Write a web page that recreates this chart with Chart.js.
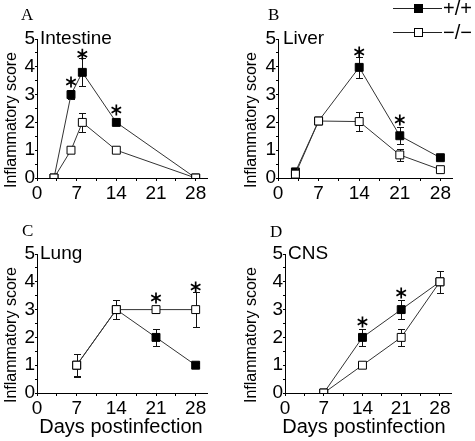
<!DOCTYPE html>
<html>
<head>
<meta charset="utf-8">
<script src="https://cdn.jsdelivr.net/npm/chart.js@4/dist/chart.umd.min.js"></script>
<style>
  body { margin: 0; background: #fff; }
  #wrap { position: relative; width: 475px; height: 441px; background: #fff; }
  canvas { position: absolute; }
</style>
</head>
<body>
<div id="wrap">
  <canvas id="cA" width="235" height="215" style="left:0;top:0"></canvas>
  <canvas id="cB" width="240" height="215" style="left:235px;top:0"></canvas>
  <canvas id="cC" width="235" height="226" style="left:0;top:215px"></canvas>
  <canvas id="cD" width="240" height="226" style="left:235px;top:215px"></canvas>
</div>
<script>
// tick labels
const xTickLabels = [0, 7, 14, 21, 28];
const yTickLabels = [0, 1, 2, 3, 4, 5];
const seriesNames = ["+/+", "\u2212/\u2212"];

// A - intestine
const intestineDays = [3, 6, 8, 14, 28];
const intestineWT = [0, 3.0, 3.8, 2.0, 0];
const intestineWTErr = [0, 0.15, 0.5, 0.08, 0];
const intestineKO = [0, 1, 2, 1, 0];
const intestineKOErr = [0, 0.1, 0.35, 0.08, 0];
const intestineStarDays = [6, 8, 14];
const intestineStarY = [3.45, 4.45, 2.45];

// B - liver
const liverDays = [3, 7, 14, 21, 28];
const liverWT = [0.22, 2.05, 3.98, 1.52, 0.73];
const liverWTErr = [0.08, 0.1, 0.39, 0.31, 0.1];
const liverKO = [0.14, 2.05, 2.03, 0.83, 0.3];
const liverKOErr = [0.08, 0.1, 0.33, 0.22, 0.1];
const liverStarDays = [14, 21];
const liverStarY = [4.53, 2.09];

// C - lung
const lungDays = [7, 14, 21, 28];
const lungWT = [1, 3, 2, 1];
const lungWTErr = [0.4, 0.35, 0.3, 0.08];
const lungKO = [1, 3, 3, 3];
const lungKOErr = [0.42, 0.35, 0.12, 0.62];
const lungStarDays = [21, 28];
const lungStarY = [3.42, 3.81];

// D - CNS
const cnsDays = [7, 14, 21, 28];
const cnsWT = [0, 2, 3, 4];
const cnsWTErr = [0, 0.31, 0.35, 0.4];
const cnsKO = [0, 1, 2, 4];
const cnsKOErr = [0, 0.06, 0.3, 0.4];
const cnsStarDays = [14, 21];
const cnsStarY = [2.55, 3.6];

const SANS = '"Liberation Sans", Arial, sans-serif';
const SERIF = '"Liberation Serif", "Times New Roman", serif';

const near = (list, v) => list.find((t) => Math.abs(t - v) < 0.01);

const panelDecor = {
  id: "panelDecor",
  beforeDatasetsDraw(chart, args, o) {
    const ctx = chart.ctx;
    const xs = chart.scales.x, ys = chart.scales.y;
    ctx.save();
    ctx.strokeStyle = "#111";
    ctx.lineWidth = 1;
    chart.data.datasets.forEach((ds) => {
      ds.data.forEach((p, i) => {
        const e = ds.err[i];
        if (!e) return;
        const x = Math.round(xs.getPixelForValue(p.x)) + 0.5;
        const yHi = Math.round(ys.getPixelForValue(p.y + e)) + 0.5;
        const yLo = Math.round(ys.getPixelForValue(p.y - e)) + 0.5;
        ctx.beginPath();
        ctx.moveTo(x, yHi); ctx.lineTo(x, yLo);
        ctx.moveTo(x - 3.5, yHi); ctx.lineTo(x + 3.5, yHi);
        ctx.moveTo(x - 3.5, yLo); ctx.lineTo(x + 3.5, yLo);
        ctx.stroke();
      });
    });
    ctx.restore();
  },
  afterDraw(chart, args, o) {
    const ctx = chart.ctx;
    const xs = chart.scales.x, ys = chart.scales.y;
    ctx.save();
    ctx.fillStyle = "#000";
    ctx.textBaseline = "alphabetic";
    ctx.textAlign = "left";
    // panel letter
    ctx.font = "17px " + SERIF;
    ctx.fillText(o.letter, o.letterX, o.letterY);
    // panel name
    ctx.font = "19px " + SANS;
    ctx.fillText(o.name, o.nameX, 44);
    // y title
    ctx.save();
    ctx.translate(o.yTitleX, 120);
    ctx.rotate(-Math.PI / 2);
    ctx.textAlign = "center";
    ctx.textBaseline = "middle";
    ctx.font = "16px " + SANS;
    ctx.fillText("Inflammatory score", 0, 0);
    ctx.restore();
    // x title
    if (o.xTitle) {
      ctx.textAlign = "center";
      ctx.font = "20px " + SANS;
      ctx.fillText("Days postinfection", o.xTitleX, 218);
    }
    // asterisks
    ctx.strokeStyle = "#000";
    ctx.lineWidth = 1.7;
    o.starDays.forEach((d, i) => {
      const cx = xs.getPixelForValue(d);
      const cy = ys.getPixelForValue(o.starY[i]);
      ctx.beginPath();
      for (let k = 0; k < 3; k++) {
        const a = Math.PI / 2 + k * Math.PI / 3;
        ctx.moveTo(cx + 5.5 * Math.cos(a), cy + 5.5 * Math.sin(a));
        ctx.lineTo(cx - 5.5 * Math.cos(a), cy - 5.5 * Math.sin(a));
      }
      ctx.stroke();
    });
    // legend
    if (o.legend) {
      ctx.lineWidth = 1;
      ctx.font = "20px " + SANS;
      ctx.textAlign = "left";
      ctx.textBaseline = "middle";
      [8, 32].forEach((y, i) => {
        ctx.strokeStyle = "#222";
        ctx.beginPath();
        ctx.moveTo(158, y + 0.5); ctx.lineTo(207, y + 0.5);
        ctx.stroke();
        ctx.fillStyle = i === 0 ? "#000" : "#fff";
        ctx.fillRect(179, y - 4, 8, 8);
        ctx.strokeStyle = "#000";
        ctx.strokeRect(179.5, y - 3.5, 8, 8);
        ctx.fillStyle = "#000";
        ctx.fillText(seriesNames[i], 208, y + 1);
      });
    }
    ctx.restore();
  },
};

function makePanel(id, cfg) {
  const pts = (vals) => cfg.days.map((d, i) => ({ x: d, y: vals[i] }));
  const ds = (label, vals, err, fill) => ({
    label: label,
    data: pts(vals),
    err: err,
    borderColor: "#333",
    borderWidth: 1,
    pointStyle: "rect",
    pointRadius: 5.6,
    pointBorderWidth: 1,
    pointBorderColor: "#000",
    pointBackgroundColor: fill,
    tension: 0,
  });
  return new Chart(document.getElementById(id), {
    type: "line",
    data: {
      // dataset 0 is drawn on top
      datasets: [
        ds(seriesNames[1], cfg.ko, cfg.koErr, "#fff"),
        ds(seriesNames[0], cfg.wt, cfg.wtErr, "#000"),
      ],
    },
    options: {
      responsive: false,
      animation: false,
      layout: { padding: { top: 39, right: cfg.padRight, left: 0, bottom: 0 } },
      plugins: {
        legend: { display: false },
        tooltip: { enabled: false },
        panelDecor: cfg.decor,
      },
      scales: {
        x: {
          type: "linear",
          min: 0,
          max: 30,
          afterFit: (s) => { s.height = cfg.xHeight; },
          afterBuildTicks: (s) => {
            s.ticks = s.ticks.filter((t) => t.value <= 28.01);
          },
          grid: { drawOnChartArea: false, drawTicks: true, tickLength: 3, color: "#000" },
          border: { display: true, color: "#000", width: 1 },
          ticks: {
            stepSize: 3.5,
            includeBounds: false,
            autoSkip: false,
            maxRotation: 0,
            padding: 1,
            color: "#000",
            font: { family: SANS, size: 19 },
            callback: (v) => { const t = near(xTickLabels, v); return t === undefined ? "" : String(t); },
          },
        },
        y: {
          min: 0,
          max: 5,
          afterFit: (s) => { s.width = cfg.yWidth; },
          grid: { drawOnChartArea: false, drawTicks: true, tickLength: 2, color: "#000" },
          border: { display: true, color: "#000", width: 1 },
          ticks: {
            stepSize: 0.5,
            autoSkip: false,
            padding: 0,
            color: "#000",
            font: { family: SANS, size: 19 },
            callback: (v) => { const t = near(yTickLabels, v); return t === undefined ? "" : String(t); },
          },
        },
      },
    },
    plugins: [panelDecor],
  });
}

makePanel("cA", {
  days: intestineDays, wt: intestineWT, wtErr: intestineWTErr,
  ko: intestineKO, koErr: intestineKOErr,
  padRight: 28, yWidth: 37, xHeight: 37,
  decor: { letter: "A", letterX: 21, letterY: 20, name: "Intestine", nameX: 40,
    yTitleX: 12, xTitle: false, starDays: intestineStarDays, starY: intestineStarY },
});
makePanel("cB", {
  days: liverDays, wt: liverWT, wtErr: liverWTErr,
  ko: liverKO, koErr: liverKOErr,
  padRight: 23, yWidth: 43, xHeight: 37,
  decor: { letter: "B", letterX: 33, letterY: 20, name: "Liver", nameX: 48,
    yTitleX: 17, xTitle: false, starDays: liverStarDays, starY: liverStarY, legend: true },
});
makePanel("cC", {
  days: lungDays, wt: lungWT, wtErr: lungWTErr,
  ko: lungKO, koErr: lungKOErr,
  padRight: 28, yWidth: 37, xHeight: 48,
  decor: { letter: "C", letterX: 22, letterY: 21, name: "Lung", nameX: 40,
    yTitleX: 12, xTitle: true, xTitleX: 121, starDays: lungStarDays, starY: lungStarY },
});
makePanel("cD", {
  days: cnsDays, wt: cnsWT, wtErr: cnsWTErr,
  ko: cnsKO, koErr: cnsKOErr,
  padRight: 24, yWidth: 50, xHeight: 48,
  decor: { letter: "D", letterX: 35, letterY: 22, name: "CNS", nameX: 53,
    yTitleX: 17, xTitle: true, xTitleX: 129, starDays: cnsStarDays, starY: cnsStarY },
});
</script>
</body>
</html>
